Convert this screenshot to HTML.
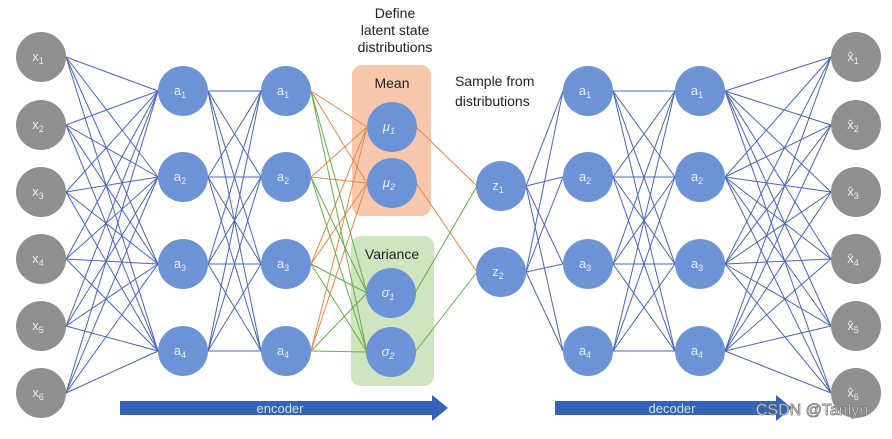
<!DOCTYPE html>
<html><head><style>
body{margin:0;background:#fff;}
svg text{font-family:"Liberation Sans","DejaVu Sans",sans-serif;}
</style></head><body>
<svg width="892" height="434" viewBox="0 0 892 434" xmlns="http://www.w3.org/2000/svg">
<rect x="352" y="65" width="79" height="151" rx="10" fill="#f8c8ad"/>
<rect x="351" y="236" width="83" height="150" rx="10" fill="#cfe5c0"/>
<g id="lines" stroke-width="1"></g>
<g id="nodes"></g>
<text x="395" y="18" font-size="14" text-anchor="middle" fill="#222">Define</text>
<text x="395" y="35" font-size="14" text-anchor="middle" fill="#222">latent state</text>
<text x="395" y="52" font-size="14" text-anchor="middle" fill="#222">distributions</text>
<text x="392" y="88" font-size="14" text-anchor="middle" fill="#222">Mean</text>
<text x="392" y="259" font-size="14" text-anchor="middle" fill="#222">Variance</text>
<text x="455" y="86" font-size="14" fill="#222">Sample from</text>
<text x="455" y="106" font-size="14" fill="#222">distributions</text>
<polygon points="120,401 432,401 432,395 448,408 432,421 432,415 120,415" fill="#3563b8"/>
<text x="280" y="413" font-size="13" text-anchor="middle" fill="#cfe0f5">encoder</text>
<polygon points="555,401 776,401 776,395 792,408 776,421 776,415 555,415" fill="#3563b8"/>
<text x="672" y="413" font-size="13" text-anchor="middle" fill="#cfe0f5">decoder</text>
<text x="812" y="415" font-size="16" text-anchor="middle" fill="#fff" stroke="#777" stroke-width="0.8">CSDN @Tanlyn</text>
</svg>
<script>
const NS="http://www.w3.org/2000/svg";
const L=document.getElementById('lines'),N=document.getElementById('nodes');
const X6=[57,125,192,259,326,393],A4=[91,177,264,351];
function line(x1,y1,x2,y2,c){const l=document.createElementNS(NS,'line');l.setAttribute('x1',x1);l.setAttribute('y1',y1);l.setAttribute('x2',x2);l.setAttribute('y2',y2);l.setAttribute('stroke',c);L.appendChild(l);}
function full(xa,ya,xb,yb,c){ya.forEach(a=>yb.forEach(b=>line(xa,a,xb,b,c)));}
const B="#4a66b8";
full(66,X6,158,A4,B);full(208,A4,261,A4,B);
full(311,A4,367,[127,183],"#e8874a");full(311,A4,367,[293,352],"#6aaa50");
line(416,127,477,186,"#e8874a");line(416,183,477,272,"#e8874a");
line(415,293,477,186,"#6aaa50");line(415,352,477,272,"#6aaa50");
full(526,[186,272],563,A4,B);full(613,A4,675,A4,B);full(725,A4,831,X6,B);
function node(x,y,fill,lab,sub,it){const c=document.createElementNS(NS,'circle');c.setAttribute('cx',x);c.setAttribute('cy',y);c.setAttribute('r',25);c.setAttribute('fill',fill);N.appendChild(c);
const t=document.createElementNS(NS,'text');t.setAttribute('x',x-3);t.setAttribute('y',y+4);t.setAttribute('text-anchor','middle');t.setAttribute('font-size','13');t.setAttribute('fill','#e8eef9');if(it)t.setAttribute('font-style','italic');t.textContent=lab;
const s=document.createElementNS(NS,'tspan');s.setAttribute('font-size','9');s.setAttribute('dy','3');s.textContent=sub;t.appendChild(s);N.appendChild(t);}
const G="#8f8f8f",BL="#6b93d6";
X6.forEach((y,i)=>node(41,y,G,'x',i+1));
A4.forEach((y,i)=>{node(183,y,BL,'a',i+1);node(286,y,BL,'a',i+1);node(588,y,BL,'a',i+1);node(700,y,BL,'a',i+1);});
node(392,127,BL,'μ',1,1);node(392,183,BL,'μ',2,1);node(391,293,BL,'σ',1,1);node(391,352,BL,'σ',2,1);
node(501,186,BL,'z',1);node(501,272,BL,'z',2);
X6.forEach((y,i)=>node(856,y,G,'x̂',i+1));
</script>
</body></html>
